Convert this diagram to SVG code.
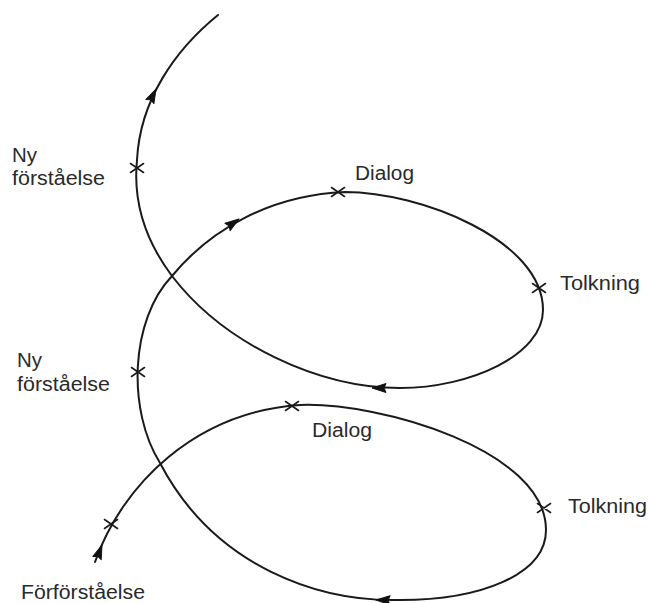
<svg xmlns="http://www.w3.org/2000/svg" width="648" height="603" viewBox="0 0 648 603">
  <style>
    .lbl { font-family: "Liberation Sans", Arial, sans-serif; font-size: 20px; fill: #2a2a2a; }
    .curve { fill: none; stroke: #1a1a1a; stroke-width: 2; stroke-linecap: round; stroke-linejoin: round; }
    .xm { fill: none; stroke: #1a1a1a; stroke-width: 1.6; stroke-linecap: round; }
    .ah { fill: #111; stroke: #111; stroke-width: 1; stroke-linejoin: round; }
  </style>
  <defs>
    <path id="xmark" class="xm" d="M -6.5 -4.5 L 6.5 4.5 M -6.5 4.5 L 6.5 -4.5"/>
    <path id="arrow" class="ah" d="M 0 0 L -14 -4.5 L -12 0 L -14 4.5 Z"/>
  </defs>
  <rect x="0" y="0" width="648" height="603" fill="#ffffff"/>

  <g id="connectors">
    <path class="curve" d="M 95 562
      C 122 485, 195 412, 300 405
      C 380 402, 546 450, 546 530
      C 546 575, 480 600, 400 600
      C 320 602, 215 568, 160 463
      C 127 410, 130 320, 172 276
      C 210 230, 270 195, 345 192
      C 420 192, 543 240, 543 310
      C 543 355, 470 388, 400 388
      C 320 388, 225 345, 172 276
      C 145 240, 133 200, 137 160
      C 140 100, 175 50, 218 15"/>
    <use href="#arrow" transform="translate(102 545) rotate(-69)"/>
    <use href="#arrow" transform="translate(156 89) rotate(-64)"/>
    <use href="#arrow" transform="translate(239 219) rotate(-35)"/>
    <use href="#arrow" transform="translate(372 388) rotate(180)"/>
    <use href="#arrow" transform="translate(376 600) rotate(181)"/>
  </g>

  <g id="node-forforstaelse">
    <use href="#xmark" x="111" y="524"/>
    <text class="lbl" x="21" y="599" textLength="124" lengthAdjust="spacingAndGlyphs">Förförståelse</text>
  </g>
  <g id="node-dialog-1">
    <use href="#xmark" x="292" y="406"/>
    <text class="lbl" x="312" y="437" textLength="60" lengthAdjust="spacingAndGlyphs">Dialog</text>
  </g>
  <g id="node-tolkning-1">
    <use href="#xmark" x="544" y="508"/>
    <text class="lbl" x="568" y="513" textLength="79" lengthAdjust="spacingAndGlyphs">Tolkning</text>
  </g>
  <g id="node-ny-forstaelse-1">
    <use href="#xmark" x="138" y="372"/>
    <text class="lbl" x="17" y="367" textLength="25" lengthAdjust="spacingAndGlyphs">Ny</text>
    <text class="lbl" x="17" y="391" textLength="93" lengthAdjust="spacingAndGlyphs">förståelse</text>
  </g>
  <g id="node-dialog-2">
    <use href="#xmark" x="338" y="192"/>
    <text class="lbl" x="355" y="180" textLength="59" lengthAdjust="spacingAndGlyphs">Dialog</text>
  </g>
  <g id="node-tolkning-2">
    <use href="#xmark" x="539" y="288"/>
    <text class="lbl" x="560" y="290" textLength="80" lengthAdjust="spacingAndGlyphs">Tolkning</text>
  </g>
  <g id="node-ny-forstaelse-2">
    <use href="#xmark" x="137" y="168"/>
    <text class="lbl" x="12" y="162" textLength="25" lengthAdjust="spacingAndGlyphs">Ny</text>
    <text class="lbl" x="12" y="185" textLength="93" lengthAdjust="spacingAndGlyphs">förståelse</text>
  </g>
</svg>
